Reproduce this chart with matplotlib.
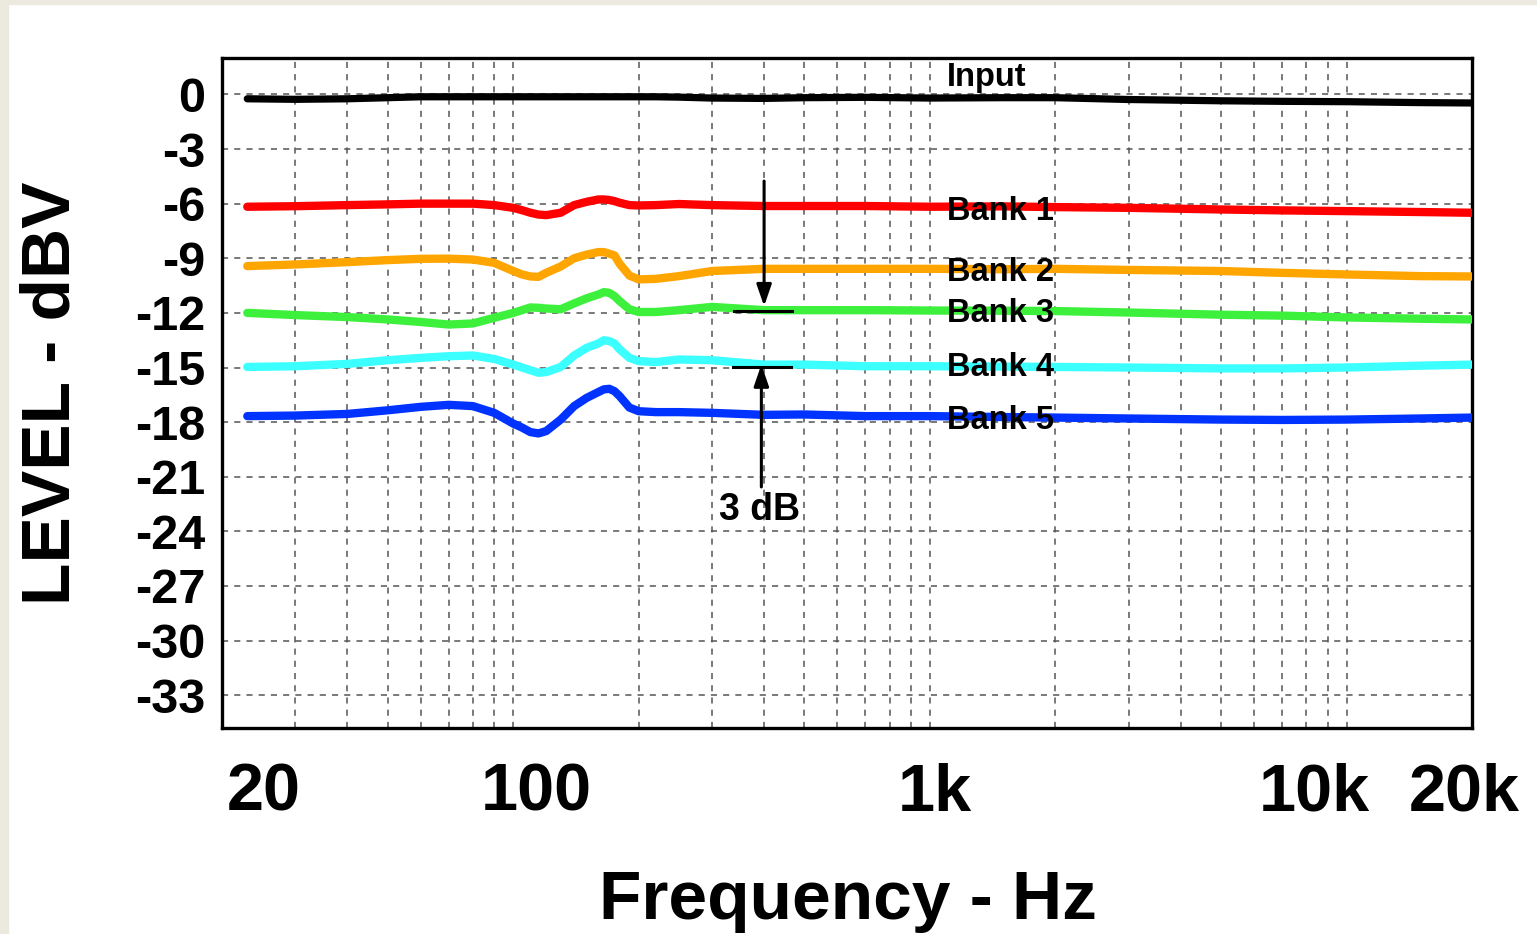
import matplotlib.pyplot as plt
import matplotlib.transforms as mtransforms
from matplotlib.patches import Rectangle

# frequency points (Hz) where the curves were read
freq = [23, 30, 40, 50, 60, 70, 80, 90, 100, 105, 110, 115, 120, 130, 140,
        150, 160, 165, 170, 175, 180, 190, 200, 220, 250, 300, 400, 500, 700,
        1000, 1500, 2000, 3000, 5000, 7000, 10000, 15000, 20000]

level_input = [-0.24, -0.27, -0.24, -0.18, -0.13, -0.13, -0.13, -0.13, -0.13,
               -0.13, -0.13, -0.13, -0.13, -0.13, -0.13, -0.13, -0.13, -0.13,
               -0.13, -0.13, -0.13, -0.13, -0.13, -0.13,
               -0.15, -0.2, -0.22, -0.18, -0.16, -0.2, -0.18, -0.18,
               -0.28, -0.35, -0.38, -0.4, -0.45, -0.47]
level_bank1 = [-6.17, -6.14, -6.08, -6.04, -6.0, -6.0, -6.0, -6.08, -6.23,
               -6.36, -6.5, -6.6, -6.63, -6.5, -6.08, -5.9, -5.77, -5.77, -5.8,
               -5.86, -5.95, -6.08, -6.1, -6.08,
               -6.02, -6.08, -6.13, -6.13, -6.13, -6.17, -6.15, -6.19, -6.23,
               -6.32, -6.37, -6.41, -6.46, -6.5]
level_bank2 = [-9.43, -9.34, -9.21, -9.1, -9.03, -9.02, -9.07, -9.25, -9.7,
               -9.89, -10.0, -10.02, -9.8, -9.45, -9.0, -8.8, -8.66, -8.66, -8.75,
               -8.84, -9.3, -9.95, -10.16, -10.13,
               -9.98, -9.7, -9.58, -9.58, -9.58, -9.58, -9.6, -9.58, -9.64,
               -9.7, -9.8, -9.89, -9.98, -10.0]
level_bank3 = [-12.0, -12.12, -12.23, -12.36, -12.5, -12.64, -12.58, -12.27,
               -12.0, -11.85, -11.7, -11.72, -11.76, -11.8, -11.48, -11.2, -10.99,
               -10.86, -10.9, -11.08, -11.35, -11.8, -11.95, -11.95,
               -11.85, -11.67, -11.85, -11.85, -11.85, -11.87, -11.88, -11.9,
               -11.98, -12.1, -12.15, -12.25, -12.32, -12.36]
level_bank4 = [-14.97, -14.93, -14.8, -14.6, -14.47, -14.38, -14.34, -14.53,
               -14.84, -15.0, -15.15, -15.29, -15.25, -14.97, -14.34, -13.92,
               -13.68, -13.5, -13.55, -13.68, -14.0, -14.47, -14.65, -14.7,
               -14.56, -14.6, -14.84, -14.84, -14.93, -14.93, -14.95, -14.97,
               -15.0, -15.05, -15.05, -15.0, -14.9, -14.84]
level_bank5 = [-17.67, -17.64, -17.55, -17.35, -17.16, -17.05, -17.12, -17.49,
               -18.08, -18.3, -18.55, -18.62, -18.49, -17.86, -17.12, -16.67,
               -16.35, -16.2, -16.17, -16.3, -16.57, -17.2, -17.4, -17.45,
               -17.45, -17.49, -17.6, -17.58, -17.67, -17.67, -17.72, -17.75,
               -17.8, -17.86, -17.88, -17.86, -17.8, -17.75]

series = [
    ("Input", level_input, "#000000", 0.95),
    ("Bank 1", level_bank1, "#ff0000", -6.45),
    ("Bank 2", level_bank2, "#ffa500", -9.8),
    ("Bank 3", level_bank3, "#3cf03c", -12.05),
    ("Bank 4", level_bank4, "#3cffff", -15.02),
    ("Bank 5", level_bank5, "#0033ff", -17.93),
]

xtick_vals = [20, 100, 1000, 10000, 20000]
xtick_labels = ["20", "100", "1k", "10k", "20k"]
xtick_shift_px = [42, 23, 5, -32, -8]
ytick_vals = list(range(0, -34, -3))

FONT = "Liberation Sans"
W, H = 1537, 934

fig = plt.figure(figsize=(W / 100, H / 100), dpi=100)
fig.patch.set_facecolor("white")
# beige frame strips on left and top
fig.patches.append(Rectangle((0, 0), 8 / W, 1, transform=fig.transFigure,
                             color="#ece9df", zorder=0))
fig.patches.append(Rectangle((0, 1 - 4 / H), 1, 4 / H, transform=fig.transFigure,
                             color="#ece9df", zorder=0))

ax = fig.add_axes([222 / W, 1 - 728 / H, (1472 - 222) / W, (728 - 58) / H])

for name, vals, color, ytxt in series:
    lw = 5.2 if name == "Input" else 6.0
    ax.plot(freq, vals, color=color, lw=lw, solid_capstyle="round",
            solid_joinstyle="round", zorder=3)
    ax.text(1100, ytxt, name, fontsize=23.5, fontweight="bold", family=FONT,
            ha="left", va="center", zorder=4)

ax.set_xscale("log")
ax.set_xlim(20, 20000)
ax.set_ylim(-34.8, 2.0)

ax.set_xticks(xtick_vals)
ax.set_xticklabels(xtick_labels)
ax.set_xticks([v * m for v in (10, 100, 1000) for m in range(2, 10) if v * m > 20],
              minor=True)
ax.xaxis.set_minor_formatter(plt.NullFormatter())
ax.set_yticks(ytick_vals)
ax.set_yticklabels([str(v) for v in ytick_vals])

ax.tick_params(axis="both", which="both", length=0)
ax.tick_params(axis="x", pad=25)
ax.tick_params(axis="y", pad=12)
for lab in ax.get_xticklabels():
    lab.set_fontsize(48)
    lab.set_fontweight("bold")
    lab.set_family(FONT)
for lab in ax.get_yticklabels():
    lab.set_fontsize(35)
    lab.set_fontweight("bold")
    lab.set_family(FONT)
for lab, dx in zip(ax.get_xticklabels(), xtick_shift_px):
    lab.set_transform(lab.get_transform() +
                      mtransforms.ScaledTranslation(dx / 100, 0, fig.dpi_scale_trans))

ax.grid(True, which="both", color="#555555", ls=(0, (4, 4)), lw=1.1, zorder=1)
for sp in ax.spines.values():
    sp.set_linewidth(2.4)

# 3 dB marker
arrow_kw = dict(arrowstyle="-|>,head_length=1.3,head_width=0.45", color="black",
                lw=2.2, shrinkA=0, shrinkB=0)
ax.annotate("", xy=(400, -11.63), xytext=(400, -4.76), arrowprops=arrow_kw, zorder=5)
ax.plot([339, 467], [-11.87, -11.87], color="black", lw=2.2, zorder=5)
ax.annotate("", xy=(394, -14.84), xytext=(394, -21.56), arrowprops=arrow_kw, zorder=5)
ax.plot([337, 465], [-14.97, -14.97], color="black", lw=2.2, zorder=5)
ax.text(390, -22.85, "3 dB", fontsize=27, fontweight="bold", family=FONT,
        ha="center", va="center", zorder=5)

fig.text(848 / W, 1 - 901 / H, "Frequency - Hz", fontsize=50, fontweight="bold",
         family=FONT, ha="center", va="center")
fig.text(51 / W, 1 - 393 / H, "LEVEL - dBV", fontsize=50, fontweight="bold",
         family=FONT, ha="center", va="center", rotation=90)

fig.savefig("out.png", dpi=100)
